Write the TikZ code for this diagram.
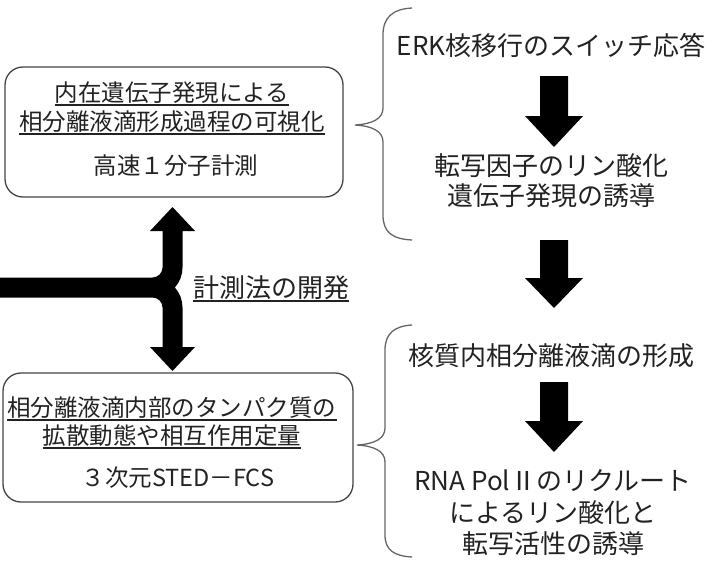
\documentclass[tikz,border=0pt]{standalone}
\usepackage{fontspec}
\newfontfamily\jp{Noto Sans CJK JP}
\definecolor{txt}{HTML}{222222}
\definecolor{boxc}{HTML}{444444}
\definecolor{brc}{HTML}{666666}
\begin{document}
\begin{tikzpicture}[x=1pt,y=-1pt,
  lt/.style={font=\jp\fontsize{23.5}{28}\selectfont, inner sep=0pt, anchor=base, text=txt},
  rt/.style={font=\jp\fontsize{26}{31}\selectfont, inner sep=0pt, anchor=base, text=txt},
  box/.style={draw=boxc, line width=1.3pt, rounded corners=18pt, inner sep=0pt},
  brace/.style={draw=brc, line width=1.3pt},
  uline/.style={draw=txt, line width=1.2pt},
  blk/.style={fill=black}]
\useasboundingbox (0,0) rectangle (715,563);

% left boxes
\node[box, minimum width=338pt, minimum height=130pt] (topbox) at (174,132) {};
\node[box, minimum width=350pt, minimum height=129pt] (botbox) at (178,437.5) {};

\node[lt] (t1) at (172,101) {内在遺伝子発現による};
\node[lt] (t2) at (172,130) {相分離液滴形成過程の可視化};
\node[lt] (t3) at (176,174) {高速１分子計測};
\draw[uline] ([yshift=-4pt]t1.base west) -- ([yshift=-4pt]t1.base east);
\draw[uline] ([yshift=-4pt]t2.base west) -- ([yshift=-4pt]t2.base east);

\node[lt] (b1) at (172,416) {相分離液滴内部のタンパク質の};
\node[lt] (b2) at (172,444) {拡散動態や相互作用定量};
\node[lt] (b3) at (178,486) {３次元STED－FCS};
\draw[uline] ([yshift=-4pt]b1.base west) -- ([yshift=-4pt]b1.base east);
\draw[uline] ([yshift=-4pt]b2.base west) -- ([yshift=-4pt]b2.base east);

% T-shaped double arrow
\fill[blk] (0,277.5) -- (152.5,277.5)
  arc[start angle=90, end angle=0, radius=10]
  -- (162.5,231) -- (150,231) -- (172.5,207) -- (195,231) -- (182.5,231)
  -- (182.5,267.5)
  arc[start angle=0, end angle=41.81, radius=30]
  arc[start angle=-41.81, end angle=0, radius=30]
  -- (182.5,347) -- (195,347) -- (172.5,371) -- (150,347) -- (162.5,347)
  -- (162.5,307.5)
  arc[start angle=0, end angle=-90, radius=10]
  -- (0,297.5) -- cycle;
\node[rt, anchor=base west] (dev) at (193,297) {計測法の開発};
\draw[uline] ([yshift=-4pt]dev.base west) -- ([yshift=-4pt]dev.base east);

% right column
\node[rt] (r1) at (551,55) {ERK核移行のスイッチ応答};
\node[rt] (r2) at (551,175) {転写因子のリン酸化};
\node[rt] (r3) at (551,205) {遺伝子発現の誘導};
\node[rt] (r4) at (551,365) {核質内相分離液滴の形成};
\node[rt] (r5) at (553,490) {RNA PolⅡのリクルート};
\node[rt] (r6) at (553,522) {によるリン酸化と};
\node[rt] (r7) at (553,553) {転写活性の誘導};

\fill[blk] (540,76) -- (568,76) -- (568,116) -- (583,116) -- (554,147) -- (525,116) -- (540,116) -- cycle;
\fill[blk] (540,240) -- (568,240) -- (568,278) -- (583,278) -- (554,308) -- (525,278) -- (540,278) -- cycle;
\fill[blk] (540,382) -- (568,382) -- (568,421) -- (583,421) -- (554,452) -- (525,421) -- (540,421) -- cycle;

% braces
\draw[brace] (412,8) .. controls (392,9) and (383,18) .. (383,35) -- (383,108)
  .. controls (383,119) and (372,124) .. (355,125)
  .. controls (372,126) and (383,131) .. (383,142) -- (383,215)
  .. controls (383,232) and (392,239) .. (412,240);
\draw[brace] (412,325) .. controls (394,326) and (385,334) .. (385,350) -- (385,428)
  .. controls (385,439) and (374,444) .. (357,445)
  .. controls (374,446) and (385,451) .. (385,462) -- (385,535)
  .. controls (385,550) and (394,556) .. (412,557);
\end{tikzpicture}
\end{document}
